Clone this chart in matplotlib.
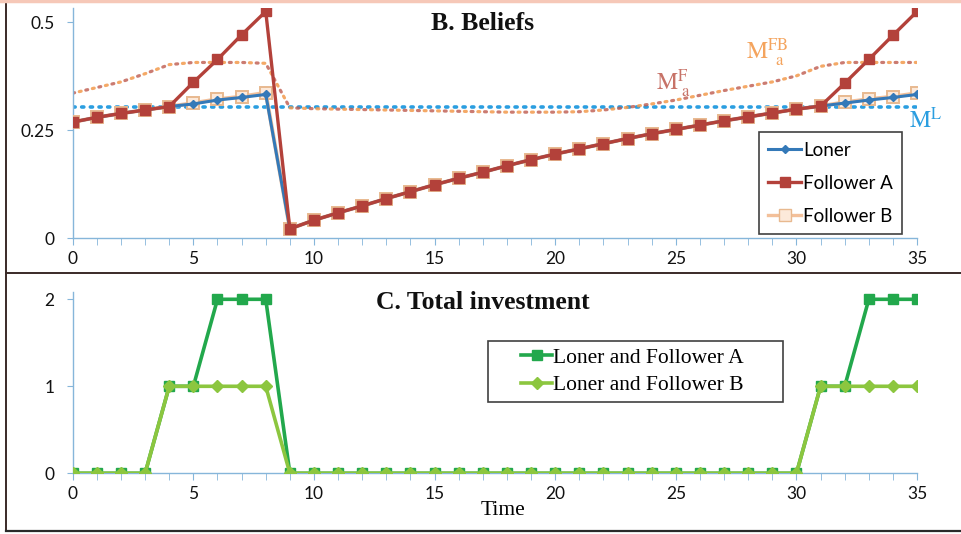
import matplotlib
matplotlib.use("Agg")
import matplotlib.pyplot as plt
from matplotlib.lines import Line2D
from matplotlib.legend_handler import HandlerLine2D

# ---- data ----
time = list(range(36))

loner = [0.269, 0.280, 0.289, 0.297, 0.305, 0.311, 0.320, 0.326, 0.333,
         0.022, 0.042, 0.059, 0.075, 0.092, 0.108, 0.124, 0.139, 0.153,
         0.168, 0.182, 0.195, 0.207, 0.219, 0.231, 0.242, 0.252, 0.262,
         0.272, 0.281, 0.290, 0.299, 0.306, 0.313, 0.320, 0.326, 0.333]

follower_a = [0.269, 0.280, 0.289, 0.297, 0.305, 0.361, 0.414, 0.471, 0.525,
              0.022, 0.042, 0.059, 0.075, 0.092, 0.108, 0.124, 0.139, 0.153,
              0.168, 0.182, 0.195, 0.207, 0.219, 0.231, 0.242, 0.252, 0.262,
              0.272, 0.281, 0.290, 0.299, 0.306, 0.359, 0.414, 0.470, 0.525]

follower_b = [0.269, 0.280, 0.289, 0.297, 0.305, 0.313, 0.322, 0.328, 0.337,
              0.022, 0.042, 0.059, 0.075, 0.092, 0.108, 0.124, 0.139, 0.153,
              0.168, 0.182, 0.195, 0.207, 0.219, 0.231, 0.242, 0.252, 0.262,
              0.272, 0.281, 0.290, 0.299, 0.306, 0.315, 0.322, 0.328, 0.336]

# thresholds
m_loner = [0.305] * 36
m_follower = [0.336, 0.349, 0.362, 0.381, 0.402, 0.407, 0.407, 0.407, 0.405,
              0.302, 0.300, 0.299, 0.298, 0.297, 0.296, 0.295, 0.294, 0.293,
              0.292, 0.292, 0.292, 0.293, 0.297, 0.303, 0.311, 0.320, 0.331,
              0.342, 0.352, 0.362, 0.376, 0.398, 0.407, 0.407, 0.407, 0.407]
m_follower_b = m_follower

invest_a = [0, 0, 0, 0, 1, 1, 2, 2, 2, 0, 0, 0, 0, 0, 0, 0, 0, 0,
            0, 0, 0, 0, 0, 0, 0, 0, 0, 0, 0, 0, 0, 1, 1, 2, 2, 2]
invest_b = [0, 0, 0, 0, 1, 1, 1, 1, 1, 0, 0, 0, 0, 0, 0, 0, 0, 0,
            0, 0, 0, 0, 0, 0, 0, 0, 0, 0, 0, 0, 0, 1, 1, 1, 1, 1]

x_ticks = [0, 5, 10, 15, 20, 25, 30, 35]
belief_ticks = [0, 0.25, 0.5]
belief_tick_labels = ["0", "0.25", "0.5"]
invest_ticks = [0, 1, 2]

# ---- style ----
SANS = "Lato"
SERIF = "Liberation Serif"
plt.rcParams["mathtext.fontset"] = "stix"
AXIS_COL = "#86B6DA"

C_LONER = "#3479B8"
C_FA = "#B3413A"
C_FB = "#F3C09A"
C_ML = "#2B9EE0"
C_MF = "#BE5A4E"
C_MFB = "#F39A4C"
C_IA = "#22A84C"
C_IB = "#8CC63F"


class ShiftedLine(HandlerLine2D):
    """Legend handle that leaves empty room on its left side."""

    def __init__(self, shift=0.0, **kw):
        super().__init__(**kw)
        self.shift = shift

    def create_artists(self, legend, orig_handle, xdescent, ydescent, width,
                       height, fontsize, trans):
        s = self.shift * fontsize
        return super().create_artists(legend, orig_handle, xdescent - s,
                                      ydescent, width - s, height, fontsize,
                                      trans)


fig = plt.figure(figsize=(9.61, 5.34), dpi=100)

ax1 = fig.add_axes([0.0757, 0.5537, 0.8786, 0.4313])
ax2 = fig.add_axes([0.0757, 0.1137, 0.8786, 0.3400])


def style_axis(ax):
    for s in ("top", "right"):
        ax.spines[s].set_visible(False)
    for s in ("left", "bottom"):
        ax.spines[s].set_color(AXIS_COL)
        ax.spines[s].set_linewidth(1.0)
    ax.set_xlim(0, 35)
    ax.set_xticks(x_ticks)
    ax.set_xticks(time, minor=True)
    ax.tick_params(axis="both", which="both", color=AXIS_COL, direction="out",
                   labelsize=12.5, labelcolor="#111111")
    ax.tick_params(axis="x", which="major", length=5, pad=4)
    ax.tick_params(axis="x", which="minor", length=5)
    ax.tick_params(axis="y", which="major", length=4, pad=9)
    for lab in ax.get_xticklabels() + ax.get_yticklabels():
        lab.set_fontfamily(SANS)


# ---- B. Beliefs ----
ax1.plot(time, m_loner, color=C_ML, lw=2.6, linestyle=(0, (0.6, 1.8)),
         dash_capstyle="round", zorder=2)
ax1.plot(time, m_follower_b, color=C_MFB, lw=2.3, linestyle=(2.1, (0.6, 3.6)),
         dash_capstyle="round", zorder=2, alpha=0.85)
ax1.plot(time, m_follower, color=C_MF, lw=2.3, linestyle=(0, (0.6, 3.6)),
         dash_capstyle="round", zorder=2, alpha=0.8)

ax1.plot(time, follower_b, color=C_FB, lw=2.8, marker="s", markersize=9,
         markerfacecolor="#FCE9DA", markeredgecolor="#E8B98F",
         markeredgewidth=1.4, zorder=3, label="Follower B")
ax1.plot(time, loner, color=C_LONER, lw=2.2, marker="D", markersize=4.5,
         markerfacecolor=C_LONER, markeredgecolor=C_LONER, zorder=4,
         label="Loner")
ax1.plot(time, follower_a, color=C_FA, lw=2.4, marker="s", markersize=6.5,
         markerfacecolor=C_FA, markeredgecolor=C_FA, zorder=5,
         label="Follower A")

style_axis(ax1)
ax1.set_ylim(0, 0.533)
ax1.set_yticks(belief_ticks)
ax1.set_yticklabels(belief_tick_labels, fontfamily=SANS)

ax1.text(0.4856, 0.934, "B. Beliefs", transform=ax1.transAxes, ha="center",
         va="center", fontsize=18.5, fontweight="bold", fontfamily=SERIF,
         color="#111111")

ax1.text(24.9, 0.358, r"$\mathrm{M^{F}_{\ a}}$", fontsize=17, color=C_MF,
         ha="center", va="center", alpha=0.85)
ax1.text(28.8, 0.43, r"$\mathrm{M^{FB}_{\ \ a}}$", fontsize=17, color=C_MFB,
         ha="center", va="center", alpha=0.9)
ax1.text(35.35, 0.272, r"$\mathrm{M^{L}}$", fontsize=17, color=C_ML,
         ha="center", va="center", clip_on=False)

h_l = Line2D([], [], color=C_LONER, lw=2.2, marker="D", markersize=4.5)
h_a = Line2D([], [], color=C_FA, lw=2.4, marker="s", markersize=6.5)
h_b = Line2D([], [], color=C_FB, lw=2.4, marker="s", markersize=9,
             markerfacecolor="#FCE9DA", markeredgecolor="#E8B98F")
leg1 = ax1.legend([h_l, h_a, h_b], ["Loner", "Follower A", "Follower B"],
                  loc="lower right", bbox_to_anchor=(0.9826, 0.019),
                  prop={"family": SANS, "size": 13.5}, frameon=True,
                  fancybox=False, edgecolor="#111111", handlelength=1.75,
                  handletextpad=0.1, borderpad=0.5, labelspacing=0.85,
                  borderaxespad=0.0)
leg1.get_frame().set_linewidth(1.2)

# ---- C. Total investment ----
ax2.plot(time, invest_a, color=C_IA, lw=2.6, marker="s", markersize=7,
         markerfacecolor=C_IA, markeredgecolor=C_IA, zorder=3,
         label="Loner and Follower A")
ax2.plot(time, invest_b, color=C_IB, lw=2.6, marker="D", markersize=6,
         markerfacecolor=C_IB, markeredgecolor=C_IB, zorder=4,
         label="Loner and Follower B")

style_axis(ax2)
ax2.set_ylim(0, 2.087)
ax2.set_yticks(invest_ticks)
ax2.set_yticklabels([str(v) for v in invest_ticks], fontfamily=SANS)
ax2.set_xlabel("Time", fontsize=15.5, fontfamily=SERIF)
ax2.xaxis.set_label_coords(0.509, -0.15)

ax2.text(0.4856, 0.94, "C. Total investment", transform=ax2.transAxes,
         ha="center", va="center", fontsize=18.5, fontweight="bold",
         fontfamily=SERIF, color="#111111")

leg2 = ax2.legend(loc="upper left", bbox_to_anchor=(0.4915, 0.7285),
                  prop={"family": SERIF, "size": 15.5}, frameon=True,
                  fancybox=False, edgecolor="#111111", handlelength=2.7,
                  handletextpad=0.05, borderpad=0.3, labelspacing=0.35,
                  borderaxespad=0.0,
                  handler_map={Line2D: ShiftedLine(shift=1.25)})
leg2.get_frame().set_linewidth(1.2)
# trailing em/en spaces widen the frame to the right of the labels
for t in leg2.get_texts():
    t.set_text(t.get_text() + "\u2003\u2002")

# ---- panel frame ----
fig.add_artist(Line2D([6 / 961, 6 / 961], [0.005, 1.0], transform=fig.transFigure,
                      color="#3a2a28", lw=1.4))
fig.add_artist(Line2D([6 / 961, 1.0], [1 - 272.5 / 534, 1 - 272.5 / 534],
                      transform=fig.transFigure, color="#3a2a28", lw=1.4))
fig.add_artist(Line2D([6 / 961, 1.0], [1 - 530.5 / 534, 1 - 530.5 / 534],
                      transform=fig.transFigure, color="#2a2a2a", lw=1.6))
fig.add_artist(Line2D([0, 1.0], [1 - 1 / 534, 1 - 1 / 534],
                      transform=fig.transFigure, color="#F6C8B8", lw=2.5))

fig.savefig("out.png", dpi=100)
